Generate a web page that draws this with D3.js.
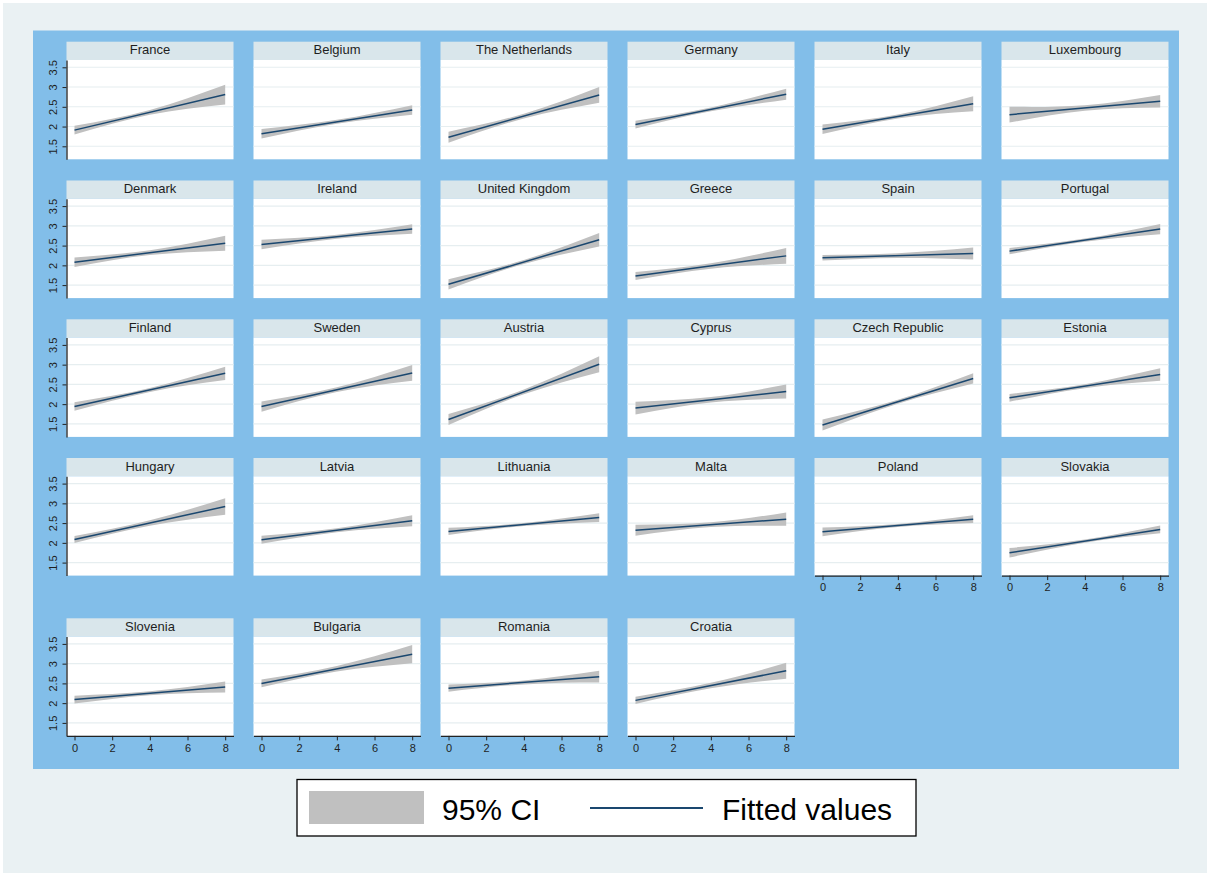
<!DOCTYPE html>
<html>
<head>
<meta charset="utf-8">
<script src="https://cdn.jsdelivr.net/npm/d3@7"></script>
<style>
  body { margin: 0; background: #ffffff; }
  svg { display: block; }
  text { font-family: "Liberation Sans", Arial, Helvetica, sans-serif; }
</style>
</head>
<body>
<svg id="chart" width="1210" height="876"></svg>
<script>
// Panels, in reading order
const countries = [
  "France", "Belgium", "The Netherlands", "Germany", "Italy", "Luxembourg",
  "Denmark", "Ireland", "United Kingdom", "Greece", "Spain", "Portugal",
  "Finland", "Sweden", "Austria", "Cyprus", "Czech Republic", "Estonia",
  "Hungary", "Latvia", "Lithuania", "Malta", "Poland", "Slovakia",
  "Slovenia", "Bulgaria", "Romania", "Croatia"
];

// Fitted values at x = 0 and x = 8
const fitAt0 = [
  1.91, 1.82, 1.73, 2.05, 1.93, 2.30,
  2.08, 2.53, 1.52, 1.73, 2.19, 2.36,
  1.94, 1.94, 1.61, 1.90, 1.47, 2.16,
  2.085, 2.08, 2.29, 2.32, 2.28, 1.75,
  2.09, 2.50, 2.38, 2.07
];
const fitAt8 = [
  2.81, 2.42, 2.80, 2.82, 2.58, 2.64,
  2.56, 2.92, 2.65, 2.24, 2.30, 2.92,
  2.78, 2.79, 3.01, 2.32, 2.65, 2.75,
  2.92, 2.56, 2.64, 2.60, 2.60, 2.34,
  2.41, 3.24, 2.67, 2.82
];

// Half-width of the 95% confidence band at x = 0, 4 and 8
const ciHalf0 = [
  0.11, 0.12, 0.14, 0.10, 0.12, 0.20,
  0.12, 0.12, 0.13, 0.10, 0.07, 0.08,
  0.11, 0.13, 0.14, 0.16, 0.14, 0.10,
  0.09, 0.10, 0.09, 0.14, 0.11, 0.12,
  0.10, 0.10, 0.09, 0.09
];
const ciHalf4 = [
  0.06, 0.05, 0.06, 0.05, 0.05, 0.07,
  0.06, 0.05, 0.05, 0.07, 0.06, 0.04,
  0.05, 0.06, 0.06, 0.07, 0.05, 0.05,
  0.07, 0.05, 0.04, 0.06, 0.04, 0.04,
  0.05, 0.07, 0.05, 0.07
];
const ciHalf8 = [
  0.25, 0.12, 0.20, 0.14, 0.19, 0.16,
  0.19, 0.12, 0.17, 0.20, 0.15, 0.13,
  0.17, 0.20, 0.20, 0.18, 0.13, 0.16,
  0.21, 0.14, 0.11, 0.17, 0.10, 0.10,
  0.14, 0.23, 0.15, 0.20
];

const yTicks = [1.5, 2, 2.5, 3, 3.5];
const xTicks = [0, 2, 4, 6, 8];
const legendLabels = ["95% CI", "Fitted values"];

const COLORS = {
  page: "#eaf1f3",
  region: "#82bee9",
  strip: "#d9e6eb",
  plot: "#ffffff",
  grid: "#e6eef0",
  band: "#c0c0c0",
  fit: "#1a476f",
  axis: "#222222"
};

const svg = d3.select("#chart");

svg.append("rect")
  .attr("x", 3).attr("y", 3).attr("width", 1204).attr("height", 870)
  .attr("fill", COLORS.page);

svg.append("rect")
  .attr("x", 33).attr("y", 30.5).attr("width", 1146).attr("height", 738.5)
  .attr("fill", COLORS.region);

const nCols = 6, colStep = 187, panelW = 167, stripH = 18.3, plotH = 99.3;
const rowTops = [41.7, 180.5, 319.3, 458, 618.3];

countries.forEach((name, i) => {
  const c = i % nCols, r = Math.floor(i / nCols);
  const left = 66.5 + c * colStep;
  const top = rowTops[r];
  const pTop = top + stripH, pBot = pTop + plotH;

  const x = d3.scaleLinear().domain([0, 8]).range([left + 8, left + 158.7]);
  const y = d3.scaleLinear().domain([1.5, 3.5]).range([pTop + 86.3, pTop + 7.3]);

  const g = svg.append("g").attr("class", "panel");

  // title strip
  g.append("rect")
    .attr("x", left).attr("y", top).attr("width", panelW).attr("height", stripH)
    .attr("fill", COLORS.strip);
  g.append("text")
    .attr("x", left + panelW / 2).attr("y", top + 12.6)
    .attr("text-anchor", "middle").attr("font-size", 13).attr("fill", "#1e1e1e")
    .text(name);

  // plot area
  g.append("rect")
    .attr("x", left).attr("y", pTop).attr("width", panelW).attr("height", plotH)
    .attr("fill", COLORS.plot);

  g.selectAll("line.grid").data(yTicks).join("line")
    .attr("class", "grid")
    .attr("x1", left).attr("x2", left + panelW)
    .attr("y1", d => y(d)).attr("y2", d => y(d))
    .attr("stroke", COLORS.grid).attr("stroke-width", 1.1);

  // confidence band
  const f = t => fitAt0[i] + (fitAt8[i] - fitAt0[i]) * t / 8;
  const bandPts = [
    { t: 0, h: ciHalf0[i] },
    { t: 4, h: ciHalf4[i] },
    { t: 8, h: ciHalf8[i] }
  ];
  const area = d3.area()
    .x(d => x(d.t))
    .y0(d => y(f(d.t) - d.h))
    .y1(d => y(f(d.t) + d.h))
    .curve(d3.curveNatural);
  g.append("path").datum(bandPts)
    .attr("d", area).attr("fill", COLORS.band);

  // fitted line
  const line = d3.line().x(d => x(d.t)).y(d => y(d.v));
  g.append("path")
    .datum([{ t: 0, v: fitAt0[i] }, { t: 8, v: fitAt8[i] }])
    .attr("d", line).attr("fill", "none")
    .attr("stroke", COLORS.fit).attr("stroke-width", 1.5);

  // y axis on the first column
  if (c === 0) {
    const yAxisScale = y.copy().domain([y.invert(pBot), y.invert(pTop)]).range([pBot, pTop]);
    const ya = g.append("g")
      .attr("transform", `translate(${left},0)`)
      .call(d3.axisLeft(yAxisScale).tickValues(yTicks).tickSize(4).tickSizeOuter(0)
        .tickFormat(d3.format("")));
    ya.select(".domain").attr("stroke", COLORS.axis).attr("stroke-width", 1.3);
    ya.selectAll(".tick line").attr("stroke", COLORS.axis).attr("stroke-width", 1);
    ya.selectAll(".tick text")
      .attr("x", 0).attr("y", -9.5).attr("dy", 0)
      .attr("text-anchor", "middle")
      .attr("transform", "rotate(-90)")
      .attr("font-size", 11).attr("fill", "#1e1e1e")
      .attr("font-family", "\"Liberation Sans\", Arial, Helvetica, sans-serif");
  }

  // x axis on the lowest panel of each column
  if (i + nCols >= countries.length) {
    const xAxisScale = x.copy().domain([x.invert(left), x.invert(left + panelW)]).range([left, left + panelW]);
    const xa = g.append("g")
      .attr("transform", `translate(0,${pBot})`)
      .call(d3.axisBottom(xAxisScale).tickValues(xTicks).tickSize(4.5).tickSizeOuter(0).tickPadding(3.5));
    xa.select(".domain").attr("stroke", COLORS.axis).attr("stroke-width", 1.3);
    xa.selectAll(".tick line").attr("stroke", COLORS.axis).attr("stroke-width", 1);
    xa.selectAll(".tick text")
      .attr("font-size", 11).attr("fill", "#1e1e1e")
      .attr("font-family", "\"Liberation Sans\", Arial, Helvetica, sans-serif");
  }
});

// legend
const lg = svg.append("g").attr("class", "legend");
lg.append("rect")
  .attr("x", 297).attr("y", 779.5).attr("width", 619).attr("height", 56.5)
  .attr("fill", "#ffffff").attr("stroke", "#000000").attr("stroke-width", 1.3);
lg.append("rect")
  .attr("x", 309).attr("y", 791).attr("width", 115).attr("height", 33)
  .attr("fill", COLORS.band);
lg.append("text")
  .attr("x", 442).attr("y", 820).attr("font-size", 30).attr("fill", "#000")
  .text(legendLabels[0]);
lg.append("line")
  .attr("x1", 590).attr("x2", 703).attr("y1", 808).attr("y2", 808)
  .attr("stroke", COLORS.fit).attr("stroke-width", 2);
lg.append("text")
  .attr("x", 722).attr("y", 820).attr("font-size", 30).attr("fill", "#000")
  .text(legendLabels[1]);
</script>
</body>
</html>
